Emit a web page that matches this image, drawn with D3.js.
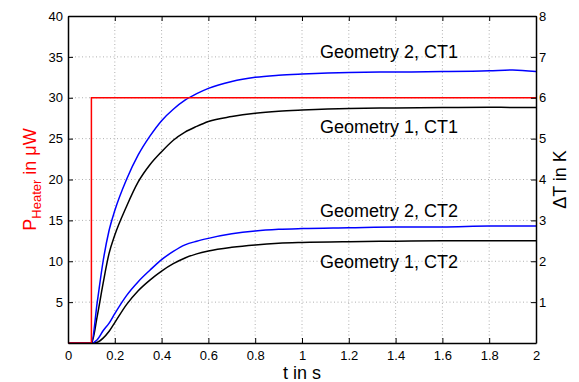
<!DOCTYPE html>
<html>
<head>
  <script src="https://d3js.org/d3.v7.min.js"></script>
  <style>
    body { margin: 0; background: #fff; }
    svg text { font-family: "Liberation Sans", Arial, sans-serif; }
    .grid line { stroke: #b0b0b0; stroke-width: 1; stroke-dasharray: 1,2.5; }
    .line { fill: none; stroke-width: 1.5px; }
  </style>
</head>
<body>
  <svg id="chart" width="579" height="382"></svg>
  <script>
    // time axis (s)
    var tValues = [0, 0.1, 0.125, 0.15, 0.175, 0.2, 0.25, 0.3, 0.35, 0.4, 0.45, 0.5, 0.55,
                   0.6, 0.7, 0.8, 0.9, 1.0, 1.2, 1.4, 1.6, 1.8, 1.9, 2.0];
    // temperature rise in K
    var geo2ct1 = [0, 0, 1.0, 2.0, 2.74, 3.24, 4.0, 4.6, 5.06, 5.44, 5.72, 5.94, 6.1,
                   6.23, 6.4, 6.5, 6.55, 6.58, 6.62, 6.63, 6.64, 6.66, 6.68, 6.64];
    var geo1ct1 = [0, 0, 0.66, 1.46, 2.18, 2.64, 3.34, 3.94, 4.36, 4.68, 4.96, 5.16, 5.3,
                   5.42, 5.54, 5.62, 5.67, 5.7, 5.74, 5.75, 5.76, 5.77, 5.76, 5.76];
    var geo2ct2 = [0, 0, 0.08, 0.3, 0.48, 0.72, 1.16, 1.5, 1.78, 2.04, 2.24, 2.4, 2.49,
                   2.56, 2.67, 2.74, 2.78, 2.8, 2.82, 2.84, 2.84, 2.86, 2.86, 2.86];
    var geo1ct2 = [0, 0, 0.02, 0.12, 0.28, 0.5, 0.94, 1.28, 1.54, 1.76, 1.94, 2.08, 2.18,
                   2.25, 2.34, 2.4, 2.44, 2.46, 2.48, 2.49, 2.5, 2.5, 2.5, 2.5];
    // heater power step (uW)
    var heaterT = [0, 0.1, 0.1, 2];
    var heaterP = [0, 0, 30, 30];

    var xTicks = [0, 0.2, 0.4, 0.6, 0.8, 1, 1.2, 1.4, 1.6, 1.8, 2];
    var leftTicks = [5, 10, 15, 20, 25, 30, 35, 40];
    var rightTicks = [1, 2, 3, 4, 5, 6, 7, 8];

    var labels = ["Geometry 2, CT1", "Geometry 1, CT1", "Geometry 2, CT2", "Geometry 1, CT2"];
    var labelT = [1.077, 1.077, 1.077, 1.077];
    var labelK = [6.97, 5.14, 3.08, 1.83];

    var margin = { top: 16, right: 43, bottom: 39, left: 68 };
    var width = 579 - margin.left - margin.right;
    var height = 382 - margin.top - margin.bottom;

    var svg = d3.select("#chart")
      .append("g")
      .attr("transform", "translate(" + margin.left + "," + margin.top + ")");

    var x = d3.scaleLinear().domain([0, 2]).range([0, width]);
    var yL = d3.scaleLinear().domain([0, 40]).range([height, 0]);
    var yR = d3.scaleLinear().domain([0, 8]).range([height, 0]);

    // grid
    var grid = svg.append("g").attr("class", "grid");
    grid.selectAll(".gx").data(xTicks.slice(1, -1)).enter().append("line")
      .attr("x1", function(d) { return x(d); }).attr("x2", function(d) { return x(d); })
      .attr("y1", 0).attr("y2", height);
    grid.selectAll(".gy").data(leftTicks.slice(0, -1)).enter().append("line")
      .attr("x1", 0).attr("x2", width)
      .attr("y1", function(d) { return yL(d); }).attr("y2", function(d) { return yL(d); });

    // curves
    function series(vals) {
      return tValues.map(function(t, i) { return [t, vals[i]]; });
    }
    var line = d3.line()
      .x(function(d) { return x(d[0]); })
      .y(function(d) { return yR(d[1]); })
      .curve(d3.curveMonotoneX);

    var curves = [
      { vals: geo1ct2, color: "#000000" },
      { vals: geo2ct2, color: "#0000ff" },
      { vals: geo1ct1, color: "#000000" },
      { vals: geo2ct1, color: "#0000ff" }
    ];
    curves.forEach(function(c) {
      svg.append("path")
        .datum(series(c.vals))
        .attr("class", "line")
        .attr("d", line)
        .style("stroke", c.color);
    });

    var heaterLine = d3.line()
      .x(function(d, i) { return x(heaterT[i]); })
      .y(function(d) { return yL(d); });
    svg.append("path")
      .datum(heaterP)
      .attr("class", "line")
      .attr("d", heaterLine)
      .style("stroke", "#ff0000");

    // axes (MATLAB style, ticks inside)
    var xAxis = d3.axisBottom(x).tickValues(xTicks).tickSizeInner(-5).tickSizeOuter(0)
      .tickPadding(8).tickFormat(d3.format("~g"));
    var xAxisTop = d3.axisTop(x).tickValues(xTicks).tickSizeInner(-5).tickSizeOuter(0).tickFormat("");
    var yAxis = d3.axisLeft(yL).tickValues(leftTicks).tickSizeInner(-5).tickSizeOuter(0).tickPadding(5);
    var yAxisR = d3.axisRight(yR).tickValues(rightTicks).tickSizeInner(-5).tickSizeOuter(0).tickPadding(3);

    svg.append("g").attr("transform", "translate(0," + height + ")").call(xAxis);
    svg.append("g").call(xAxisTop);
    svg.append("g").call(yAxis);
    svg.append("g").attr("transform", "translate(" + width + ",0)").call(yAxisR);

    svg.selectAll(".domain").attr("stroke", "#000").attr("stroke-width", 1.5);
    svg.selectAll(".tick line").attr("stroke", "#000");
    svg.selectAll(".tick text")
      .style("font-size", "13px")
      .style("fill", "#000");

    // curve labels
    svg.selectAll(".anno").data(labels).enter().append("text")
      .attr("x", function(d, i) { return x(labelT[i]); })
      .attr("y", function(d, i) { return yR(labelK[i]); })
      .style("font-size", "18px")
      .text(function(d) { return d; });

    // axis titles
    svg.append("text")
      .attr("x", width / 2)
      .attr("y", height + 36)
      .attr("text-anchor", "middle")
      .style("font-size", "18px")
      .text("t in s");

    var pLabel = svg.append("text")
      .attr("transform", "translate(-32," + (height / 2) + ") rotate(-90)")
      .attr("text-anchor", "middle")
      .style("font-size", "18px")
      .style("fill", "#ff0000");
    pLabel.append("tspan").text("P");
    pLabel.append("tspan").attr("dy", 5).style("font-size", "13px").text("Heater");
    pLabel.append("tspan").attr("dy", -5).text(" in \u03bcW");

    svg.append("text")
      .attr("transform", "translate(" + (width + 30) + "," + (height / 2) + ") rotate(-90)")
      .attr("text-anchor", "middle")
      .style("font-size", "18px")
      .text("\u0394T in K");
  </script>
</body>
</html>
